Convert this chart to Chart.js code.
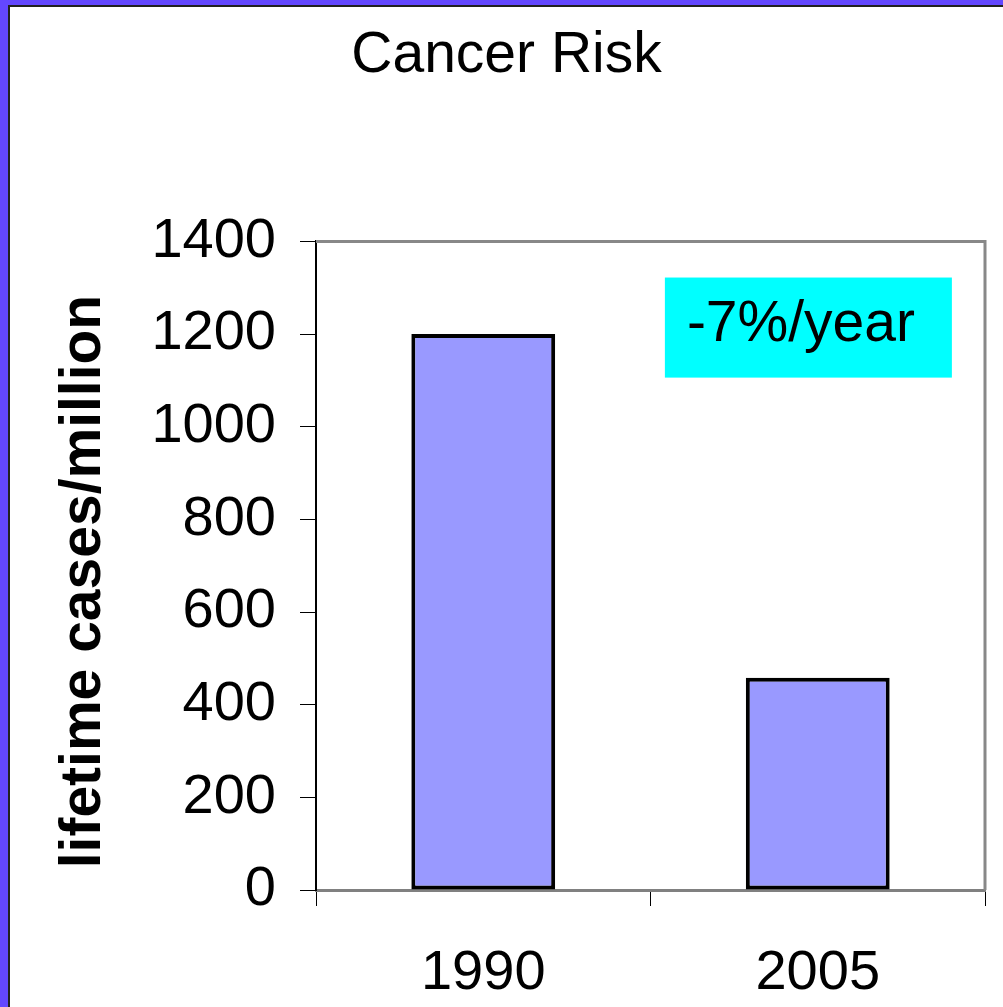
<!DOCTYPE html>
<html>
<head>
<meta charset="utf-8">
<script src="https://cdn.jsdelivr.net/npm/chart.js"></script>
<style>
    html, body { margin: 0; padding: 0; background: #fff; }
    #page { position: relative; width: 1003px; height: 1007px; overflow: hidden; }
    #chart { position: absolute; left: 0; top: 0; background: #fff; }
    #frame { position: absolute; left: 0; top: 0; width: 1003px; height: 1007px;
             box-sizing: border-box; border-left: 8px solid #6347ff; border-top: 5px solid #6347ff;
             pointer-events: none; }
    #frame div { width: 100%; height: 100%; box-sizing: border-box;
                 border-left: 2px solid #222; border-top: 2px solid #222; }
</style>
</head>
<body>
<div id="page">
    <canvas id="chart" width="1003" height="1007"></canvas>
    <div id="frame"><div></div></div>
</div>
<script>
// chart data
const years = ['1990', '2005'];
const casesPerMillion = [1200, 458];
const yTicks = [0, 200, 400, 600, 800, 1000, 1200, 1400];
const noteText = '-7%/year';

const FONT = '"Liberation Sans", Arial, sans-serif';

// gray frame round the plot area + the cyan note box
const plotFrame = {
    id: 'plotFrame',
    afterLayout(chart) {
        // title sits a little right of the page centre in the original
        if (chart.titleBlock) {
            chart.titleBlock.left += 14;
            chart.titleBlock.right += 14;
        }
    },
    beforeDatasetsDraw(chart) {
        const { ctx, chartArea: a } = chart;
        ctx.save();
        ctx.strokeStyle = '#888';
        ctx.lineWidth = 3;
        ctx.beginPath();
        ctx.moveTo(a.left, a.top);
        ctx.lineTo(a.right, a.top);
        ctx.lineTo(a.right, a.bottom);
        ctx.stroke();
        ctx.restore();
    },
    afterDatasetsDraw(chart) {
        const { ctx, scales } = chart;
        const x0 = scales.x.getPixelForValue(0.543);
        const x1 = scales.x.getPixelForValue(1.401);
        const y0 = scales.y.getPixelForValue(1322);
        const y1 = scales.y.getPixelForValue(1106);
        ctx.save();
        ctx.fillStyle = '#00ffff';
        ctx.fillRect(x0, y0, x1 - x0, y1 - y0);
        ctx.fillStyle = '#000';
        ctx.font = '57px ' + FONT;
        ctx.textAlign = 'left';
        ctx.textBaseline = 'alphabetic';
        ctx.fillText(noteText, x0 + 22, y0 + 63);
        ctx.restore();
    }
};

new Chart(document.getElementById('chart'), {
    type: 'bar',
    data: {
        labels: years,
        datasets: [{
            data: casesPerMillion,
            backgroundColor: '#9999ff',
            borderColor: '#000',
            borderWidth: 4,
            borderSkipped: false,
            barPercentage: 1,
            categoryPercentage: 0.43
        }]
    },
    options: {
        responsive: false,
        animation: false,
        devicePixelRatio: 1,
        layout: { padding: { left: 0, right: 18, top: 0, bottom: 0 } },
        plugins: {
            legend: { display: false },
            tooltip: { enabled: false },
            title: {
                display: true,
                text: 'Cancer Risk',
                color: '#000',
                font: { family: FONT, size: 57, weight: 'normal' },
                padding: { top: 22, bottom: 151 }
            }
        },
        scales: {
            x: {
                grid: { offset: true, drawOnChartArea: false, tickLength: 16, color: '#000', lineWidth: 1 },
                border: { display: true, color: '#808080', width: 3 },
                ticks: { color: '#000', font: { family: FONT, size: 56 }, padding: 34 },
                afterFit(scale) { scale.height = 117; }
            },
            y: {
                min: 0,
                max: 1400,
                afterBuildTicks(scale) { scale.ticks = yTicks.map(v => ({ value: v })); },
                grid: { drawOnChartArea: false, tickLength: 16, color: '#000', lineWidth: 1 },
                border: { display: true, color: '#000', width: 2 },
                ticks: {
                    color: '#000',
                    font: { family: FONT, size: 56 },
                    padding: 24,
                    callback: v => String(v)
                },
                title: {
                    display: true,
                    text: 'lifetime cases/million  ',
                    color: '#000',
                    font: { family: FONT, size: 57, weight: 'bold' },
                    padding: { top: 50, bottom: 0 }
                },
                afterFit(scale) { scale.width = 316; }
            }
        }
    },
    plugins: [plotFrame]
});
</script>
</body>
</html>
